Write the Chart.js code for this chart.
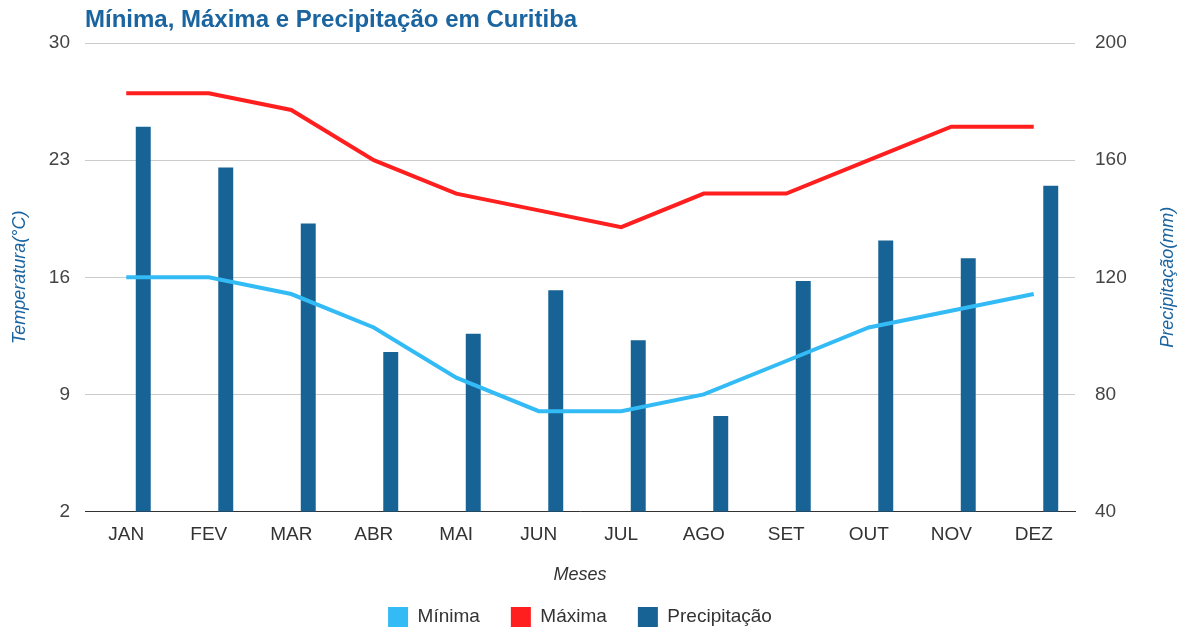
<!DOCTYPE html>
<html>
<head>
<meta charset="utf-8">
<script src="https://cdn.jsdelivr.net/npm/chart.js@4.4.1/dist/chart.umd.min.js"></script>
<style>
  html, body { margin: 0; padding: 0; background: #ffffff; }
  #wrap { width: 1188px; height: 629px; position: relative; }
</style>
</head>
<body>
<div id="wrap"><canvas id="c" width="1188" height="629"></canvas></div>
<script>
const categories = ['JAN','FEV','MAR','ABR','MAI','JUN','JUL','AGO','SET','OUT','NOV','DEZ'];
const minima = [16, 16, 15, 13, 10, 8, 8, 9, 11, 13, 14, 15];
const maxima = [27, 27, 26, 23, 21, 20, 19, 21, 21, 23, 25, 25];
const precipitacao = [171.4, 157.5, 138.4, 94.5, 100.7, 115.6, 98.5, 72.6, 118.7, 132.6, 126.5, 151.3];
const tempTicks = [2, 9, 16, 23, 30];
const precTicks = [40, 80, 120, 160, 200];

const FONT = "'Liberation Sans', Arial, sans-serif";
const C_MIN = '#33bbf6';
const C_MAX = '#ff1f1f';
const C_PREC = '#176396';
const TITLE_BLUE = '#1a64a0';

const rightTitle = {
  id: 'rightTitle',
  afterDraw(chart) {
    const ctx = chart.ctx;
    const a = chart.chartArea;
    ctx.save();
    ctx.translate(1168, (a.top + a.bottom) / 2);
    ctx.rotate(-Math.PI / 2);
    ctx.font = 'italic 18px ' + FONT;
    ctx.fillStyle = TITLE_BLUE;
    ctx.textAlign = 'center';
    ctx.textBaseline = 'middle';
    ctx.fillText('Precipitação(mm)', 0, 0);
    ctx.restore();
  }
};

new Chart(document.getElementById('c'), {
  data: {
    labels: categories,
    datasets: [
      { type: 'line', label: 'Mínima', data: minima, yAxisID: 'y', borderColor: C_MIN, backgroundColor: C_MIN,
        borderWidth: 4, pointRadius: 0, tension: 0, order: 1 },
      { type: 'line', label: 'Máxima', data: maxima, yAxisID: 'y', borderColor: C_MAX, backgroundColor: C_MAX,
        borderWidth: 4, pointRadius: 0, tension: 0, order: 1 },
      { type: 'bar', label: '_spacer', data: categories.map(() => null), yAxisID: 'y1',
        backgroundColor: 'rgba(0,0,0,0)', categoryPercentage: 0.824, barPercentage: 0.44, order: 2 },
      { type: 'bar', label: 'Precipitação', data: precipitacao, yAxisID: 'y1', backgroundColor: C_PREC,
        borderColor: C_PREC, borderWidth: 0, categoryPercentage: 0.824, barPercentage: 0.44, order: 2 }
    ]
  },
  options: {
    responsive: false,
    animation: false,
    layout: { padding: { left: 0, right: 0, top: 0, bottom: 0 } },
    plugins: {
      title: {
        display: true, text: 'Mínima, Máxima e Precipitação em Curitiba', align: 'start', fullSize: false,
        color: TITLE_BLUE, font: { family: FONT, size: 24, weight: 'bold' },
        padding: { top: 6, bottom: 8.2 }
      },
      legend: {
        position: 'bottom', fullSize: false, maxHeight: 53,
        labels: {
          font: { family: FONT, size: 19 }, color: '#333333',
          boxWidth: 20, boxHeight: 20, padding: 31,
          filter: (item) => item.text !== '_spacer',
          generateLabels: (chart) => chart.data.datasets.map((ds, i) => ({
            text: ds.label, fillStyle: ds.type === 'line' ? ds.borderColor : ds.backgroundColor,
            strokeStyle: 'rgba(0,0,0,0)', lineWidth: 0, hidden: false, datasetIndex: i, fontColor: '#333333'
          }))
        }
      },
      tooltip: { enabled: false }
    },
    scales: {
      x: {
        offset: true,
        grid: { display: false, drawTicks: false },
        border: { display: true, color: '#333333', width: 1 },
        ticks: { color: '#333333', font: { family: FONT, size: 19 }, padding: 12, maxRotation: 0 },
        title: { display: true, text: 'Meses', color: '#333333', font: { family: FONT, size: 18, style: 'italic' }, padding: { top: 6, bottom: -10 } }
      },
      y: {
        position: 'left', min: 2, max: 30,
        afterBuildTicks: (s) => { s.ticks = tempTicks.map(v => ({ value: v })); },
        afterFit: (s) => { s.width = 85; },
        grid: { color: '#cccccc', drawTicks: false, lineWidth: 1 },
        border: { display: false },
        ticks: { color: '#444444', font: { family: FONT, size: 19 }, padding: 15 },
        title: { display: true, text: 'Temperatura(°C)', color: TITLE_BLUE, font: { family: FONT, size: 18, style: 'italic' }, padding: { top: 9, bottom: 0 } }
      },
      y1: {
        position: 'right', min: 40, max: 200,
        afterBuildTicks: (s) => { s.ticks = precTicks.map(v => ({ value: v })); },
        afterFit: (s) => { s.width = 113; },
        grid: { display: false, drawTicks: false },
        border: { display: false },
        ticks: { color: '#444444', font: { family: FONT, size: 19 }, padding: 20 }
      }
    }
  },
  plugins: [rightTitle]
});
</script>
</body>
</html>
